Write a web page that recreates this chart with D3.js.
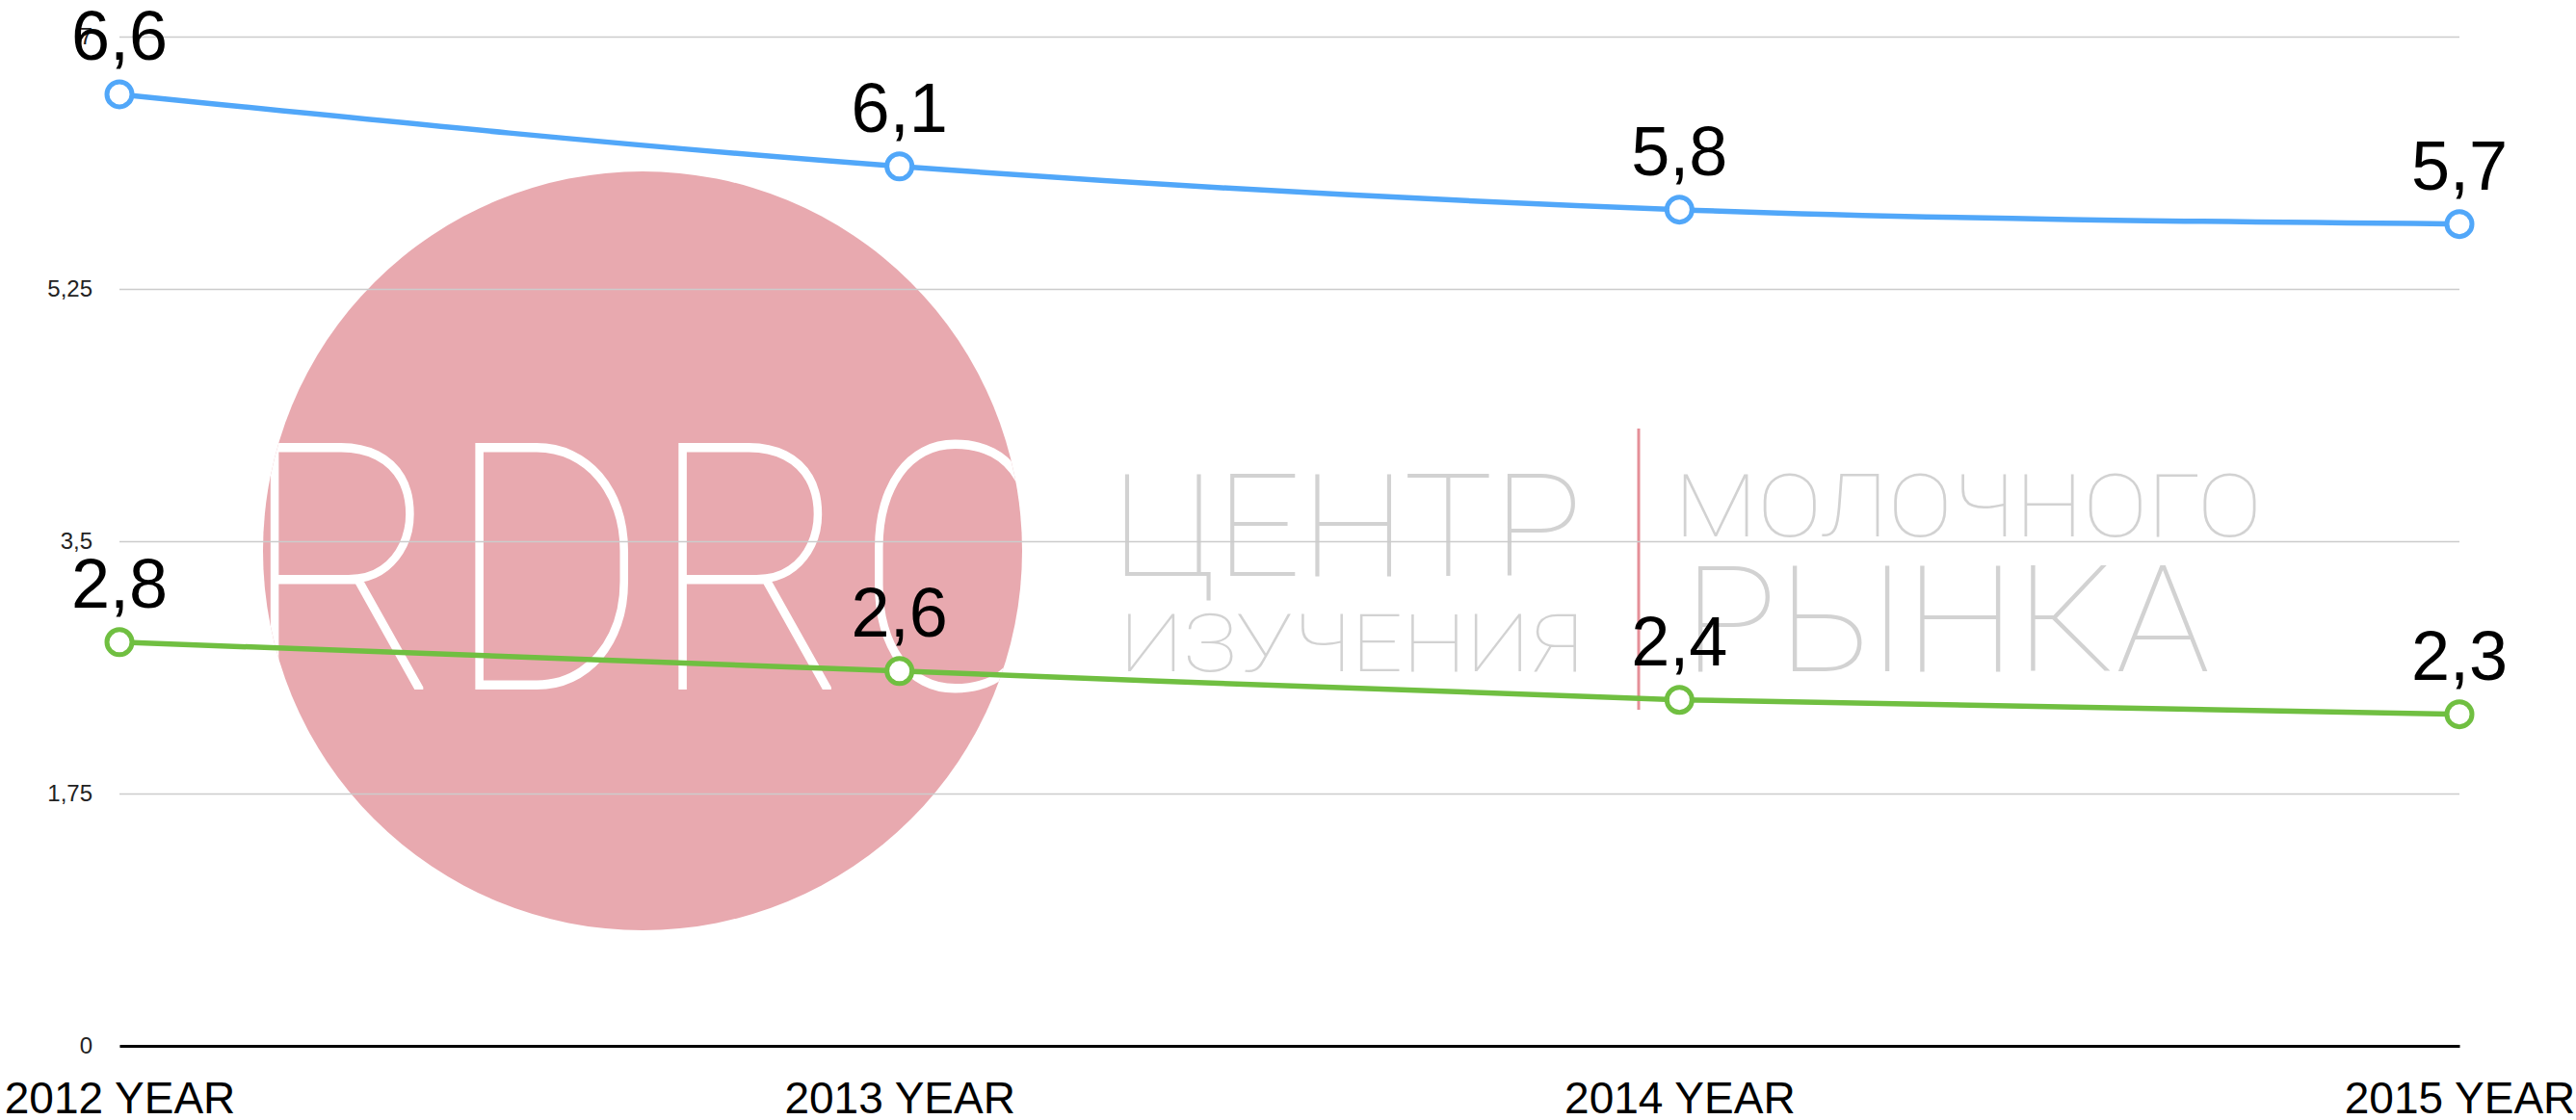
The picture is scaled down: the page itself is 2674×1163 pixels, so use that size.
<!DOCTYPE html>
<html>
<head>
<meta charset="utf-8">
<script src="https://cdn.jsdelivr.net/npm/d3@7"></script>
<style>
  html, body { margin: 0; padding: 0; background: #fff; }
  svg { display: block; font-family: "Liberation Sans", Arial, sans-serif; }
</style>
</head>
<body>
<svg id="chart" width="2674" height="1163"></svg>
<script>
var years = ["2012 YEAR", "2013 YEAR", "2014 YEAR", "2015 YEAR"];
var blueValues = [6.6, 6.1, 5.8, 5.7];
var greenValues = [2.8, 2.6, 2.4, 2.3];
var yTicks = [0, 1.75, 3.5, 5.25, 7];

var svg = d3.select("#chart"),
    plotLeft = 124, plotRight = 2553, plotTop = 38, plotBottom = 1086;

var x = d3.scalePoint().domain(years).range([plotLeft, plotRight]);
var y = d3.scaleLinear().domain([0, 7]).range([plotBottom, plotTop]);
var fmt = function(d) { return String(d).replace(".", ","); };

// watermark logo (background)
var logo = svg.append("g").attr("class", "logo");
logo.append("clipPath").attr("id", "circ")
  .append("circle").attr("cx", 667).attr("cy", 572).attr("r", 394);
logo.append("circle")
    .attr("cx", 667).attr("cy", 572).attr("r", 394)
    .attr("fill", "#e8a9af");
logo.append("text")
    .attr("clip-path", "url(#circ)")
    .attr("x", 250).attr("y", 716)
    .attr("textLength", 845).attr("lengthAdjust", "spacingAndGlyphs")
    .attr("font-family", "Roboto, Lato, sans-serif")
    .attr("font-weight", 100)
    .attr("font-size", 360)
    .attr("fill", "#fff")
    .text("RDRC");
logo.append("line")
    .attr("x1", 1701).attr("x2", 1701).attr("y1", 445).attr("y2", 737)
    .attr("stroke", "#e58f98").attr("stroke-width", 3);
var greyText = [
  {t: "ЦЕНТР", x: 1154, y: 598, w: 489, s: 148},
  {t: "ИЗУЧЕНИЯ", x: 1162, y: 697, w: 481, s: 84},
  {t: "МОЛОЧНОГО", x: 1738, y: 557, w: 610, s: 91},
  {t: "РЫНКА", x: 1747, y: 697, w: 547, s: 154}
];
logo.selectAll("text.grey")
  .data(greyText)
  .enter().append("text")
    .attr("class", "grey")
    .attr("x", function(d) { return d.x; })
    .attr("y", function(d) { return d.y; })
    .attr("textLength", function(d) { return d.w; })
    .attr("lengthAdjust", "spacingAndGlyphs")
    .attr("font-family", "Roboto, Lato, sans-serif")
    .attr("font-weight", 100)
    .attr("font-size", function(d) { return d.s; })
    .attr("fill", "#d2d2d2")
    .text(function(d) { return d.t; });

// y grid + labels
var yAxis = svg.append("g")
    .attr("transform", "translate(" + plotLeft + ",0)")
    .call(d3.axisLeft(y).tickValues(yTicks).tickFormat(fmt)
      .tickSizeInner(-(plotRight - plotLeft)).tickSizeOuter(0).tickPadding(28));
yAxis.select(".domain").remove();
yAxis.selectAll(".tick line").attr("stroke", "#cccccc").attr("stroke-width", 1.5);
yAxis.selectAll(".tick text")
    .attr("font-family", "Liberation Sans, Arial, sans-serif")
    .attr("font-size", 24).attr("fill", "#222");

// x axis
var xAxis = svg.append("g")
    .attr("transform", "translate(0," + plotBottom + ")")
    .call(d3.axisBottom(x).tickSize(0).tickPadding(37));
xAxis.select(".domain").attr("stroke", "#000").attr("stroke-width", 3);
xAxis.selectAll(".tick text")
    .attr("font-family", "Liberation Sans, Arial, sans-serif")
    .attr("font-size", 46).attr("fill", "#000");

// lines
var series = [
  {values: blueValues, color: "#51a7f9"},
  {values: greenValues, color: "#70bf41"}
];
var line = d3.line()
    .x(function(d, i) { return x(years[i]); })
    .y(function(d) { return y(d); })
    .curve(d3.curveMonotoneX);

series.forEach(function(s) {
  svg.append("path")
      .datum(s.values)
      .attr("d", line)
      .attr("fill", "none")
      .attr("stroke", s.color)
      .attr("stroke-width", 5.5);

  svg.append("g").selectAll("circle")
    .data(s.values)
    .enter().append("circle")
      .attr("cx", function(d, i) { return x(years[i]); })
      .attr("cy", function(d) { return y(d); })
      .attr("r", 13)
      .attr("fill", "#fff")
      .attr("stroke", s.color)
      .attr("stroke-width", 5);

  svg.append("g").selectAll("text")
    .data(s.values)
    .enter().append("text")
      .attr("x", function(d, i) { return x(years[i]); })
      .attr("y", function(d) { return y(d) - 36; })
      .attr("text-anchor", "middle")
      .attr("font-size", 72)
      .attr("fill", "#000")
      .text(fmt);
});
</script>
</body>
</html>
